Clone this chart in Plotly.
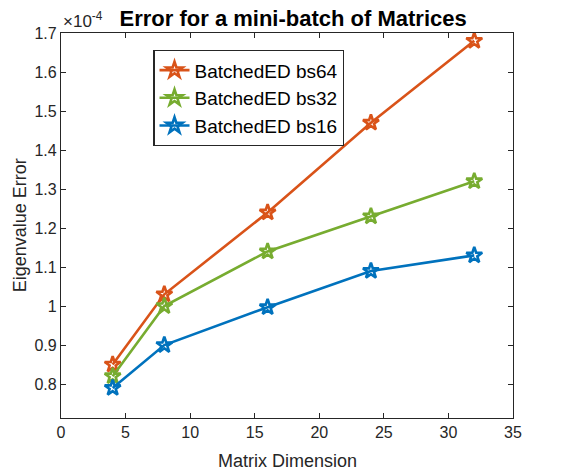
import plotly.graph_objects as go

x_dim = [4, 8, 16, 24, 32]
bs64 = [0.85, 1.03, 1.24, 1.47, 1.68]
bs32 = [0.82, 1.00, 1.14, 1.23, 1.32]
bs16 = [0.79, 0.90, 0.997, 1.09, 1.13]

series = [("BatchedED bs64", bs64, "#D95319"),
          ("BatchedED bs32", bs32, "#77AC30"),
          ("BatchedED bs16", bs16, "#0072BD")]

font = "Liberation Sans, Arial, Helvetica, sans-serif"
fig = go.Figure()
for name, vals, col in series:
    fig.add_trace(go.Scatter(
        x=x_dim, y=vals, name=name, mode="lines+markers",
        line=dict(color=col, width=2.6),
        marker=dict(symbol="star-open", size=12, color=col, line=dict(width=2.6, color=col)),
    ))

axis_common = dict(showline=True, linecolor="#262626", linewidth=1.3, mirror="ticks",
                   ticks="inside", ticklen=5, tickcolor="#262626", showgrid=False,
                   zeroline=False, automargin=False,
                   tickfont=dict(size=16, color="#262626", family=font))
fig.update_xaxes(range=[0, 35], tickvals=[0, 5, 10, 15, 20, 25, 30, 35], **axis_common)
fig.update_yaxes(range=[0.713, 1.7], tickvals=[0.8, 0.9, 1.0, 1.1, 1.2, 1.3, 1.4, 1.5, 1.6, 1.7],
                 ticktext=["0.8", "0.9", "1", "1.1", "1.2", "1.3", "1.4", "1.5", "1.6", "1.7"],
                 **axis_common)
fig.update_layout(
    width=567, height=470,
    margin=dict(l=61, r=54, t=33, b=52),
    plot_bgcolor="white", paper_bgcolor="white",
    title=dict(text="<b>Error for a mini-batch of Matrices</b>", x=0.517, xanchor="center",
               y=0.962, yanchor="middle", font=dict(size=22, color="black", family=font)),
    legend=dict(x=0.204, y=0.956, xanchor="left", yanchor="top", bgcolor="white",
                bordercolor="#262626", borderwidth=1.3,
                font=dict(size=19, color="black", family=font), tracegroupgap=0,
                itemwidth=30),
    showlegend=True,
    annotations=[
        dict(text="\u00d710<sup>-4</sup>", xref="paper", yref="paper", x=0.0, y=1.0,
             xanchor="left", yanchor="bottom", showarrow=False,
             font=dict(size=17, color="#262626", family=font)),
        dict(text="Matrix Dimension", xref="paper", yref="paper", x=0.5, y=-0.112,
             xanchor="center", yanchor="middle", showarrow=False,
             font=dict(size=18, color="#262626", family=font)),
        dict(text="Eigenvalue Error", xref="paper", yref="paper", x=-0.091, y=0.5,
             xanchor="center", yanchor="middle", textangle=-90, showarrow=False,
             font=dict(size=18, color="#262626", family=font)),
    ],
)
fig.write_html("out.html")
